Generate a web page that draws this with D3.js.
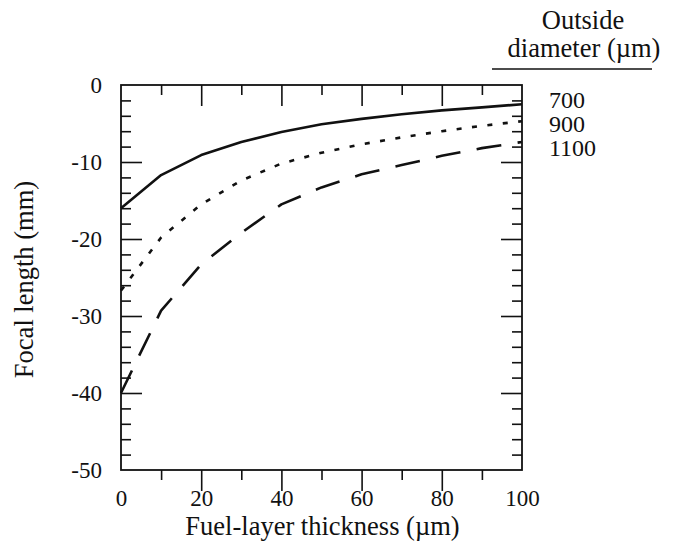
<!DOCTYPE html>
<html>
<head>
<meta charset="utf-8">
<script src="https://cdn.jsdelivr.net/npm/d3@7"></script>
<style>
  body { margin: 0; background: #fff; }
</style>
</head>
<body>
<div id="chart"></div>
<script>
// fuel-layer thickness (um)
const thickness = [0, 10, 20, 30, 40, 50, 60, 70, 80, 90, 100]
// focal length (mm) per outside diameter
const focal700 = [-16, -11.7, -9.1, -7.4, -6.1, -5.1, -4.4, -3.8, -3.3, -2.9, -2.5]
const focal900 = [-26.7, -19.8, -15.5, -12.4, -10.2, -8.8, -7.7, -6.8, -6.0, -5.3, -4.7]
const focal1100 = [-40, -29.3, -23.3, -19.2, -15.5, -13.3, -11.6, -10.4, -9.2, -8.2, -7.4]
const diameters = ['700', '900', '1100']
const xTicks = [0, 20, 40, 60, 80, 100]
const yTicks = [0, -10, -20, -30, -40, -50]

const width = 676
const height = 547
const margin = { top: 85, right: 154, bottom: 77, left: 121 }
const plotW = width - margin.left - margin.right
const plotH = height - margin.top - margin.bottom
const serif = '"Liberation Serif", "Times New Roman", serif'

const svg = d3.select('#chart')
  .append('svg')
  .attr('width', width)
  .attr('height', height)

const x = d3.scaleLinear().domain([0, 100]).range([margin.left, margin.left + plotW])
const y = d3.scaleLinear().domain([0, -50]).range([margin.top, margin.top + plotH])

const tickFont = 23
const titleFont = 26.5

// inward ticks on all four sides
function tickAxis (axisFn, scale, values, len, transform) {
  svg.append('g')
    .attr('transform', transform)
    .call(axisFn(scale).tickValues(values).tickSize(len).tickFormat('').tickSizeOuter(0))
    .call(g => g.select('.domain').remove())
    .call(g => g.selectAll('line').attr('stroke', '#111').attr('stroke-width', 1.6))
}

const xMinor = d3.range(10, 100, 20)
const xMajor = [20, 40, 60, 80]
const yMinor = d3.range(-2, -50, -2).filter(v => v % 10 !== 0)
const yMajor = [-10, -20, -30, -40]

tickAxis(d3.axisTop, x, xMajor, -21, `translate(0,${margin.top + plotH})`)
tickAxis(d3.axisTop, x, xMinor, -10, `translate(0,${margin.top + plotH})`)
tickAxis(d3.axisBottom, x, xMajor, 21, `translate(0,${margin.top})`)
tickAxis(d3.axisBottom, x, xMinor, 10, `translate(0,${margin.top})`)
tickAxis(d3.axisRight, y, yMajor, 21, `translate(${margin.left},0)`)
tickAxis(d3.axisRight, y, yMinor, 10, `translate(${margin.left},0)`)
tickAxis(d3.axisLeft, y, yMajor, 21, `translate(${margin.left + plotW},0)`)
tickAxis(d3.axisLeft, y, yMinor, 10, `translate(${margin.left + plotW},0)`)

// frame
svg.append('rect')
  .attr('x', margin.left)
  .attr('y', margin.top)
  .attr('width', plotW)
  .attr('height', plotH)
  .attr('fill', 'none')
  .attr('stroke', '#111')
  .attr('stroke-width', 1.8)

// tick labels
const xLabels = svg.append('g')
  .attr('transform', `translate(0,${margin.top + plotH + 17})`)
  .call(d3.axisBottom(x).tickValues(xTicks).tickSize(0).tickFormat(d3.format('d')))
xLabels.select('.domain').remove()
xLabels.selectAll('text')
  .style('font-family', serif)
  .attr('font-size', tickFont)
  .attr('fill', '#111')

const yLabels = svg.append('g')
  .attr('transform', `translate(${margin.left - 16},0)`)
  .call(d3.axisLeft(y).tickValues(yTicks).tickSize(0).tickFormat(d => d === 0 ? '0' : '-' + Math.abs(d)))
yLabels.select('.domain').remove()
yLabels.selectAll('text')
  .style('font-family', serif)
  .attr('font-size', tickFont)
  .attr('fill', '#111')

// axis titles
svg.append('text')
  .attr('x', margin.left + plotW / 2 + 1)
  .attr('y', 535)
  .attr('text-anchor', 'middle')
  .attr('font-size', titleFont)
  .style('font-family', serif)
  .attr('fill', '#111')
  .text('Fuel-layer thickness (\u00b5m)')

svg.append('text')
  .attr('transform', `translate(33,${margin.top + plotH / 2 + 2}) rotate(-90)`)
  .attr('text-anchor', 'middle')
  .attr('font-size', titleFont)
  .style('font-family', serif)
  .attr('fill', '#111')
  .text('Focal length (mm)')

// curves
const series = [
  { name: diameters[0], values: focal700, dash: null },
  { name: diameters[1], values: focal900, dash: '5,10.5' },
  { name: diameters[2], values: focal1100, dash: '25,16.5' }
]

const line = d3.line()
  .x((d, i) => x(thickness[i]))
  .y(d => y(d))

svg.append('g')
  .selectAll('path')
  .data(series)
  .join('path')
  .attr('d', d => line(d.values))
  .attr('fill', 'none')
  .attr('stroke', '#111')
  .attr('stroke-width', 2.6)
  .attr('stroke-linejoin', 'round')
  .attr('stroke-dasharray', d => d.dash)

// legend
const legend = svg.append('g')
legend.append('text')
  .attr('x', 583).attr('y', 29)
  .attr('text-anchor', 'middle')
  .attr('font-size', titleFont)
  .style('font-family', serif)
  .attr('fill', '#111')
  .text('Outside')
legend.append('text')
  .attr('x', 584).attr('y', 57)
  .attr('text-anchor', 'middle')
  .attr('font-size', titleFont)
  .style('font-family', serif)
  .attr('fill', '#111')
  .text('diameter (\u00b5m)')
legend.append('line')
  .attr('x1', 492).attr('x2', 652)
  .attr('y1', 69).attr('y2', 69)
  .attr('stroke', '#111')
  .attr('stroke-width', 1.6)
legend.selectAll('text.item')
  .data(series)
  .join('text')
  .attr('class', 'item')
  .attr('x', 549)
  .attr('y', (d, i) => 108 + i * 24)
  .attr('font-size', 24)
  .style('font-family', serif)
  .attr('fill', '#111')
  .text(d => d.name)
</script>
</body>
</html>
